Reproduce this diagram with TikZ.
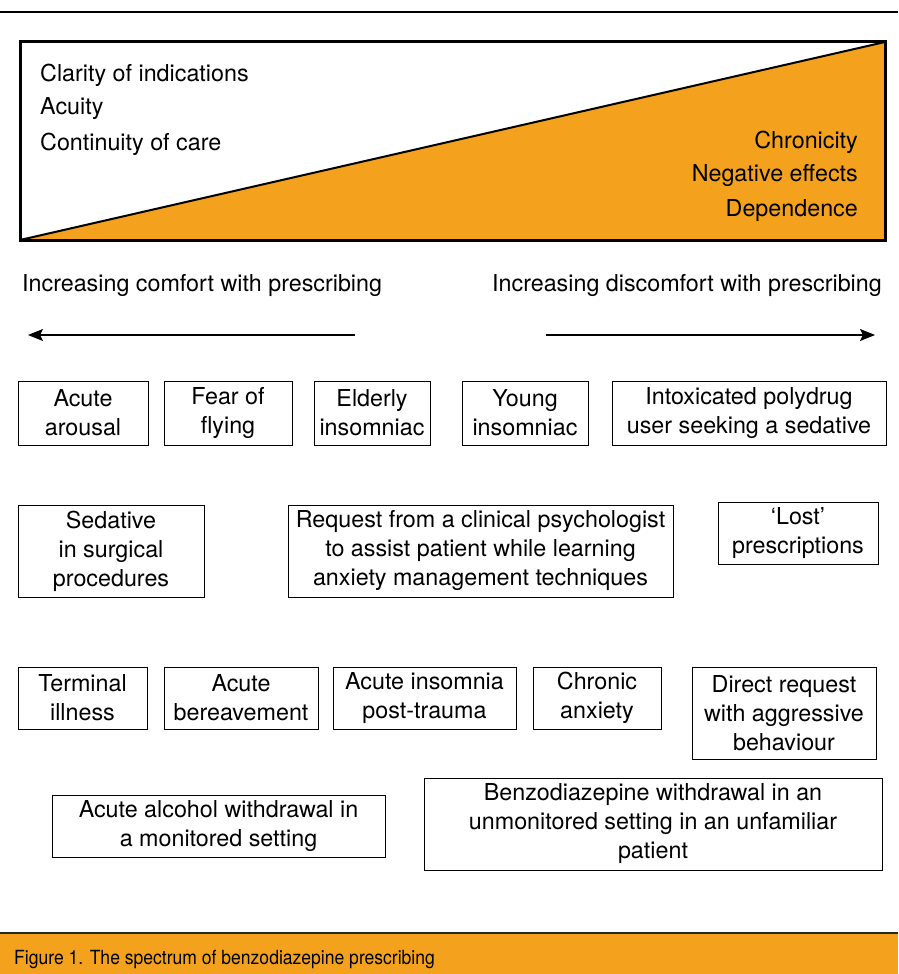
\documentclass[tikz,border=0pt]{standalone}
\usepackage{fontspec}
\setmainfont{TeX Gyre Heros}
\newfontfamily\capfont[FakeStretch=0.9]{TeX Gyre Heros}
\usetikzlibrary{arrows.meta}
\definecolor{bzorange}{RGB}{244,161,30}
\newcommand{\txtfont}{\fontsize{23.3}{29}\selectfont}
\tikzset{
  every node/.style={inner sep=0pt},
  box/.style={draw, line width=1pt, align=center, font=\txtfont},
  lbl/.style={font=\txtfont},
  arr/.style={line width=1.3pt, -{Stealth[length=15pt,width=12pt,inset=3pt]}},
}
\begin{document}
\begin{tikzpicture}[x=1pt,y=-1pt]
\useasboundingbox (0,0) rectangle (898,974);
% top rule
\draw[line width=1.5pt] (0,12) -- (898,12);
% wedge
\fill[bzorange] (20,240) -- (885,42) -- (885,240) -- cycle;
\draw[line width=2pt] (20,240) -- (885,42);
\draw[line width=3pt] (20,42) rectangle (885,240);
\node[lbl, anchor=west] (clar) at (40,75) {Clarity of indications};
\node[lbl, anchor=west] (acu) at (40,109) {Acuity};
\node[lbl, anchor=west] (cont) at (40,144) {Continuity of care};
\node[lbl, anchor=east] (chron) at (858,142) {Chronicity};
\node[lbl, anchor=east] (neg) at (858,176) {Negative effects};
\node[lbl, anchor=east] (dep) at (858,211) {Dependence};
% direction labels
\node[lbl, anchor=west] (comf) at (22,286) {Increasing comfort with prescribing};
\node[lbl, anchor=east] (disc) at (882,286) {Increasing discomfort with prescribing};
\coordinate (la) at (355,335);
\coordinate (lb) at (28,335);
\coordinate (ra) at (546,335);
\coordinate (rb) at (875,335);
\draw[arr] (la) -- (lb);
\draw[arr] (ra) -- (rb);
% row 1
\node[box, minimum width=130pt, minimum height=64pt] (b1) at (83,413) {Acute\\arousal};
\node[box, minimum width=128pt, minimum height=64pt] (b2) at (228,413) {Fear of\\flying};
\node[box, minimum width=116pt, minimum height=64pt] (b3) at (372,413) {Elderly\\insomniac};
\node[box, minimum width=126pt, minimum height=64pt] (b4) at (525,413) {Young\\insomniac};
\node[box, minimum width=274pt, minimum height=64pt] (b5) at (749,413) {Intoxicated polydrug\\user seeking a sedative};
% row 2
\node[box, minimum width=186pt, minimum height=92pt] (c1) at (111,551) {Sedative\\in surgical\\procedures};
\node[box, minimum width=385pt, minimum height=92pt] (c2) at (480.5,551) {Request from a clinical psychologist\\to assist patient while learning\\anxiety management techniques};
\node[box, minimum width=160pt, minimum height=62pt] (c3) at (798,533) {`Lost'\\prescriptions};
% row 3
\node[box, minimum width=129pt, minimum height=62pt] (d1) at (82.5,698) {Terminal\\illness};
\node[box, minimum width=154pt, minimum height=62pt] (d2) at (241,698) {Acute\\bereavement};
\node[box, minimum width=183pt, minimum height=62pt] (d3) at (424.5,698) {Acute insomnia\\post-trauma};
\node[box, minimum width=128pt, minimum height=62pt] (d4) at (597,698) {Chronic\\anxiety};
\node[box, minimum width=184pt, minimum height=92pt] (d5) at (784,713) {Direct request\\with aggressive\\behaviour};
% row 4
\node[box, minimum width=333pt, minimum height=62pt] (e1) at (218.5,826) {Acute alcohol withdrawal in\\a monitored setting};
\node[box, minimum width=458pt, minimum height=92pt] (e2) at (653,824) {Benzodiazepine withdrawal in an\\unmonitored setting in an unfamiliar\\patient};
% caption
\fill[bzorange] (0,933) rectangle (898,974);
\draw[line width=1.3pt, black!85] (0,933) -- (898,933);
\node[anchor=base west, font=\capfont\fontsize{19.5}{22}\selectfont] (cap) at (14,964) {Figure 1. The spectrum of benzodiazepine prescribing};
\end{tikzpicture}
\end{document}
